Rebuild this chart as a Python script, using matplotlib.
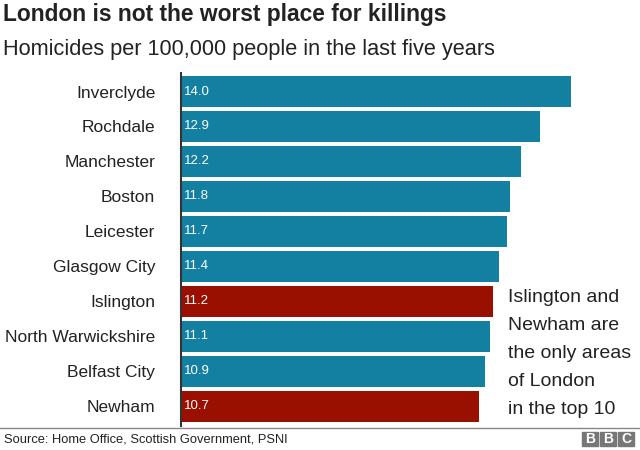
import matplotlib.pyplot as plt
from matplotlib.patches import Rectangle

plt.rcParams['font.family'] = ['Liberation Sans', 'DejaVu Sans']

areas = ["Inverclyde", "Rochdale", "Manchester", "Boston", "Leicester",
         "Glasgow City", "Islington", "North Warwickshire", "Belfast City", "Newham"]
rates = [14.0, 12.9, 12.2, 11.8, 11.7, 11.4, 11.2, 11.1, 10.9, 10.7]
london = ["Islington", "Newham"]

teal = "#1380A1"
red = "#990F00"
colours = [red if a in london else teal for a in areas]

fig = plt.figure(figsize=(6.4, 4.5), dpi=100)
ax = fig.add_axes([181/640, 24/450, 459/640, 353/450])

ypos = list(range(len(areas)))
ax.barh(ypos, rates, height=0.89, color=colours)
for y, v in zip(ypos, rates):
    ax.text(0.1, y, f"{v:.1f}", color="white", fontsize=9.5, va="center", ha="left")

ax.set_xlim(0, 459/27.86)
ax.set_ylim(9.57, -0.53)
ax.set_yticks(ypos)
ax.set_yticklabels(areas, fontsize=12.5, color="#222222")
ax.tick_params(axis="y", length=0, pad=18.5)
ax.set_xticks([])
for side in ["top", "right", "bottom"]:
    ax.spines[side].set_visible(False)
ax.spines["left"].set_linewidth(1.5)
ax.spines["left"].set_color("#333333")

fig.text(3/640, 1 - 14/450, "London is not the worst place for killings",
         fontsize=16.4, fontweight="bold", color="#222222", va="center", ha="left")
fig.text(3/640, 1 - 50/450, "Homicides per 100,000 people in the last five years",
         fontsize=15.7, color="#222222", va="center", ha="left")

note = ["Islington and", "Newham are", "the only areas", "of London", "in the top 10"]
for i, line in enumerate(note):
    fig.text(508/640, 1 - (298 + 28*i)/450, line, fontsize=14, color="#222222",
             va="center", ha="left")

# footer
fig.add_artist(plt.Line2D([0, 1], [1 - 428/450, 1 - 428/450], color="#888888", lw=1))
fig.text(4/640, 1 - 440/450, "Source: Home Office, Scottish Government, PSNI",
         fontsize=9.3, color="#222222", va="center", ha="left")
for i, letter in enumerate("BBC"):
    x0 = 582 + i * 18
    fig.add_artist(Rectangle((x0/640, 1 - 446/450), 16/640, 14/450,
                             color="#777777", transform=fig.transFigure))
    fig.text((x0 + 8)/640, 1 - 439/450, letter, fontsize=10, fontweight="bold",
             color="white", ha="center", va="center")

fig.savefig("out.png", dpi=100)
